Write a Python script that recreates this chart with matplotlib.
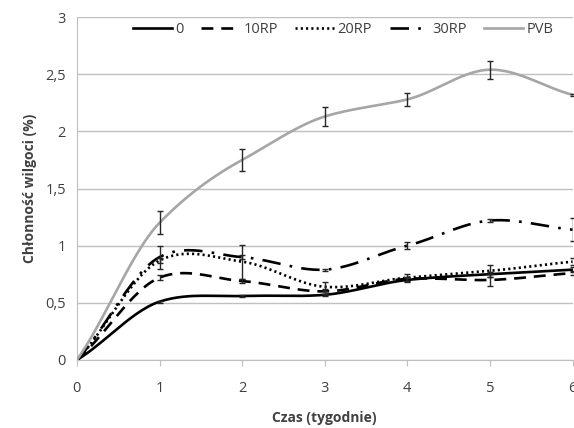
import numpy as np
import matplotlib
matplotlib.use("Agg")
import matplotlib.pyplot as plt

# data
weeks = [0, 1, 2, 3, 4, 5, 6]
series_names = ["0", "10RP", "20RP", "30RP", "PVB"]
s0 = [0, 0.51, 0.56, 0.57, 0.70, 0.75, 0.79]
s10 = [0, 0.72, 0.69, 0.60, 0.71, 0.70, 0.76]
s20 = [0, 0.87, 0.86, 0.64, 0.72, 0.78, 0.86]
s30 = [0, 0.90, 0.90, 0.79, 1.00, 1.22, 1.14]
pvb = [0, 1.20, 1.75, 2.13, 2.28, 2.54, 2.32]
err0 = [0, 0.01, 0.01, 0.01, 0.02, 0.02, 0.02]
err10 = [0, 0.02, 0.02, 0.02, 0.02, 0.05, 0.02]
err20 = [0, 0.02, 0.15, 0.04, 0.03, 0.05, 0.03]
err30 = [0, 0.10, 0.02, 0.01, 0.03, 0.01, 0.10]
errpvb = [0, 0.10, 0.10, 0.08, 0.06, 0.08, 0.01]


def smooth(x, y, n=30):
    # Catmull-Rom like curve, similar to Excel "smoothed line"
    x = np.asarray(x, float)
    y = np.asarray(y, float)
    px = np.concatenate([[2 * x[0] - x[1]], x, [2 * x[-1] - x[-2]]])
    py = np.concatenate([[2 * y[0] - y[1]], y, [2 * y[-1] - y[-2]]])
    xs, ys = [], []
    t = np.linspace(0, 1, n)
    for i in range(1, len(px) - 2):
        p0, p1, p2, p3 = py[i - 1], py[i], py[i + 1], py[i + 2]
        m1 = (p2 - p0) / 2 * 0.85
        m2 = (p3 - p1) / 2 * 0.85
        h00 = 2 * t**3 - 3 * t**2 + 1
        h10 = t**3 - 2 * t**2 + t
        h01 = -2 * t**3 + 3 * t**2
        h11 = t**3 - t**2
        ys.append(h00 * p1 + h10 * m1 + h01 * p2 + h11 * m2)
        xs.append(px[i] + t * (px[i + 1] - px[i]))
    return np.concatenate(xs), np.concatenate(ys)


plt.rcParams['font.family'] = ['Open Sans', 'DejaVu Sans']

fig = plt.figure(figsize=(5.74, 4.28), dpi=100)
ax = fig.add_axes([0.134, 0.159, 0.8634, 0.801])

styles = [
    dict(color="black", lw=1.9, ls="-"),
    dict(color="black", lw=1.9, ls=(0, (4.5, 3))),
    dict(color="black", lw=1.9, ls=(0, (0.8, 1.2))),
    dict(color="black", lw=1.9, ls=(0, (7, 3.5, 1, 3.5))),
    dict(color="#a6a6a6", lw=1.9, ls="-"),
]
values = [s0, s10, s20, s30, pvb]
errors = [err0, err10, err20, err30, errpvb]

for name, y, e, st in zip(series_names, values, errors, styles):
    xs, ys = smooth(weeks, y)
    ax.plot(xs, ys, label=name, zorder=3, **st)
    ax.errorbar(weeks[1:], y[1:], yerr=e[1:], fmt="none", ecolor="#262626",
                elinewidth=1, capsize=2.5, capthick=1, zorder=4)

ax.set_xlim(0, 6)
ax.set_ylim(0, 3)
ax.set_yticks([0, 0.5, 1, 1.5, 2, 2.5, 3])
ax.set_yticklabels(["0", "0,5", "1", "1,5", "2", "2,5", "3"])
ax.set_xticks(weeks)
ax.grid(axis="y", color="#c0c0c0", lw=1)
ax.set_axisbelow(True)
for side in ["top", "right"]:
    ax.spines[side].set_visible(False)
ax.spines["left"].set_color("#bfbfbf")
ax.spines["bottom"].set_color("#bfbfbf")
ax.tick_params(axis="both", colors="#bfbfbf", labelcolor="#404040", labelsize=10.5, length=4)
ax.tick_params(axis="y", length=0, pad=8)
ax.tick_params(axis="x", pad=11)

ax.set_xlabel("Czas (tygodnie)", fontsize=10, fontweight="bold", color="#404040", labelpad=11)
ax.set_ylabel("Chłonność wilgoci (%)", fontsize=10, fontweight="bold", color="#404040", labelpad=6)

leg = ax.legend(ncol=5, loc="center", bbox_to_anchor=(0.537, 0.965), frameon=False,
                fontsize=10.5, handlelength=2.7, handletextpad=0.2, columnspacing=1.2,
                labelcolor="#404040")

fig.savefig("out.png", dpi=100)
